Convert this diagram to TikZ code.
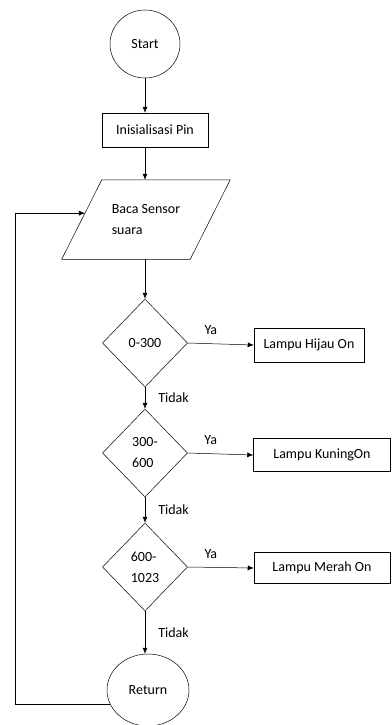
\documentclass[tikz,border=0pt]{standalone}
\usepackage{fontspec}
\setmainfont{Carlito}
\usetikzlibrary{shapes.geometric,arrows.meta,calc}
\tikzstyle{terminal} = [ellipse, draw, minimum width=70pt, minimum height=68pt, inner sep=0pt]
\tikzstyle{process}  = [rectangle, draw, minimum height=34pt, inner sep=2pt]
\tikzstyle{io}       = [rectangle, minimum width=168pt, minimum height=79pt, inner sep=0pt, align=left]
\tikzstyle{decision} = [diamond, draw, minimum width=85pt, minimum height=88pt, inner sep=0pt, align=left]
\tikzstyle{label}    = [inner sep=1pt]
\tikzstyle{arrow}    = [->, >={Latex[length=6pt,width=5pt]}]

\begin{document}
\begin{tikzpicture}[x=1pt,y=1pt,line width=0.5pt,font=\fontsize{14}{21}\selectfont]
        \useasboundingbox (0,0) rectangle (391,-725);

        \node[terminal] (start) at (145,-44) {Start};
        \node[process, minimum width=106pt] (init) at (155,-130) {Inisialisasi Pin};
        \node[io] (baca) at (146,-219.5) {Baca Sensor\\suara};
        \draw (baca.south west) -- ([xshift=-40pt]baca.south east) -- (baca.north east)
              -- ([xshift=40pt]baca.north west) -- cycle;
        \coordinate (bacaleft) at ($(baca.south west)!0.58!([xshift=40pt]baca.north west)$);

        \node[decision] (d1) at (145,-343) {0-300};
        \node[decision] (d2) at (145,-453) {300-\\600};
        \node[decision] (d3) at (145,-567) {600-\\1023};

        \node[process, minimum width=110pt] (hijau) at (309,-345) {Lampu Hijau On};
        \node[process, minimum width=137pt, minimum height=33pt] (kuning) at (322,-455) {Lampu KuningOn};
        \node[process, minimum width=136pt, minimum height=31pt] (merah) at (322,-568) {Lampu Merah On};

        \node[terminal, minimum width=82pt, minimum height=72pt] (ret) at (148,-690) {Return};

        \draw[arrow] (start.south) -- (start.south |- init.north);
        \draw[arrow] (init.south -| start.south) -- (start.south |- baca.north);
        \draw[arrow] (baca.south -| d1.north) -- (d1.north);

        \draw[arrow] (d1.east) -- node[label, above=8pt, pos=0.35] {Ya} (hijau.west);
        \draw[arrow] (d2.east) -- node[label, above=8pt, pos=0.35] {Ya} (kuning.west);
        \draw[arrow] (d3.east) -- node[label, above=8pt, pos=0.35] {Ya} (merah.west);

        \draw[arrow] (d1.south) -- node[label, right=12pt] {Tidak} (d2.north);
        \draw[arrow] (d2.south) -- node[label, right=12pt] {Tidak} (d3.north);
        \draw[arrow] (d3.south) -- node[label, right=12pt] {Tidak} (ret.north -| d3.south);

        \draw[arrow] (ret.200) -- ++(-95,0) |- (bacaleft);
    \end{tikzpicture}
\end{document}
